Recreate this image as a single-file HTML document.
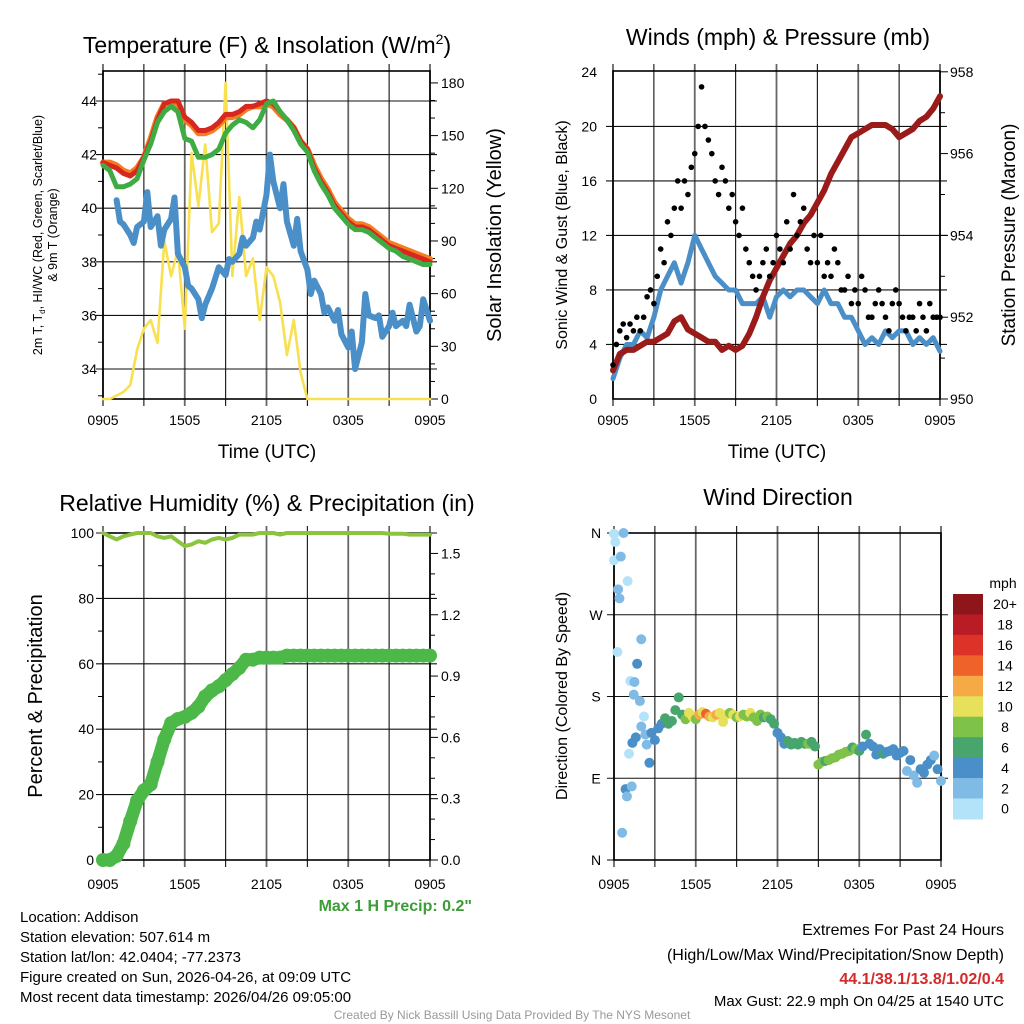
<!DOCTYPE html>
<html><head><meta charset="utf-8"><style>
body{margin:0;background:#fff;}
svg{display:block;font-family:"Liberation Sans",sans-serif;}
</style></head><body>
<svg id="c" width="1024" height="1024" viewBox="0 0 1024 1024" xmlns="http://www.w3.org/2000/svg">
<text x="267" y="53" font-size="23" text-anchor="middle">Temperature (F) &amp; Insolation (W/m<tspan dy="-9" font-size="14">2</tspan><tspan dy="9">)</tspan></text>
<text x="778" y="45" font-size="23" text-anchor="middle">Winds (mph) &amp; Pressure (mb)</text>
<text x="267" y="511" font-size="23" text-anchor="middle">Relative Humidity (%) &amp; Precipitation (in)</text>
<text x="778" y="505" font-size="23" text-anchor="middle">Wind Direction</text>

<text transform="translate(42,235) rotate(-90)" font-size="12.5" text-anchor="middle">2m T, T<tspan font-size="8" dy="3">d</tspan><tspan dy="-3">, HI/WC (Red, Green, Scarlet/Blue)</tspan></text>
<text transform="translate(57,235) rotate(-90)" font-size="12.5" text-anchor="middle">&amp; 9m T (Orange)</text>
<text transform="translate(501,235) rotate(-90)" font-size="20" text-anchor="middle">Solar Insolation (Yellow)</text>
<text transform="translate(567,235) rotate(-90)" font-size="16" text-anchor="middle">Sonic Wind &amp; Gust (Blue, Black)</text>
<text transform="translate(1015,235) rotate(-90)" font-size="19" text-anchor="middle">Station Pressure (Maroon)</text>
<text transform="translate(42,696) rotate(-90)" font-size="20" text-anchor="middle">Percent &amp; Precipitation</text>
<text transform="translate(567,696) rotate(-90)" font-size="16" text-anchor="middle">Direction (Colored By Speed)</text>
<text x="267" y="458" font-size="19" text-anchor="middle">Time (UTC)</text>
<text x="777" y="458" font-size="19" text-anchor="middle">Time (UTC)</text>
<text x="472" y="911" font-size="16" font-weight="bold" fill="#3a9e35" text-anchor="end">Max 1 H Precip: 0.2"</text>

<g font-size="15">
<text x="20" y="922">Location: Addison</text>
<text x="20" y="942">Station elevation: 507.614 m</text>
<text x="20" y="962">Station lat/lon: 42.0404; -77.2373</text>
<text x="20" y="982">Figure created on Sun, 2026-04-26, at 09:09 UTC</text>
<text x="20" y="1002">Most recent data timestamp: 2026/04/26 09:05:00</text>
</g>
<g font-size="16" text-anchor="end">
<text x="1004" y="935">Extremes For Past 24 Hours</text>
<text x="1004" y="960">(High/Low/Max Wind/Precipitation/Snow Depth)</text>
<text x="1004" y="984" font-weight="bold" fill="#d42a2a">44.1/38.1/13.8/1.02/0.4</text>
<text x="1004" y="1006" font-size="15">Max Gust: 22.9 mph On 04/25 at 1540 UTC</text>
</g>
<text x="512" y="1019" font-size="12" fill="#999" text-anchor="middle">Created By Nick Bassill Using Data Provided By The NYS Mesonet</text>
</svg>
<script>
// ---- data ----
const timeLabels = ["0905","1505","2105","0305","0905"];
const halfHours = [0,0.5,1,1.5,2,2.5,3,3.5,4,4.5,5,5.5,6,6.5,7,7.5,8,8.5,9,9.5,10,10.5,11,11.5,12,12.5,13,13.5,14,14.5,15,15.5,16,16.5,17,17.5,18,18.5,19,19.5,20,20.5,21,21.5,22,22.5,23,23.5,24];
const tempTicks = [34,36,38,40,42,44];
const insolTicks = [0,30,60,90,120,150,180];
const temp2m = [41.7,41.6,41.5,41.3,41.2,41.4,41.9,42.5,43.3,43.9,44.0,44.0,43.4,43.2,42.9,42.9,43.0,43.2,43.5,43.5,43.6,43.8,43.8,43.9,44.0,43.9,43.6,43.3,43.0,42.5,42.2,41.5,41.0,40.6,40.1,39.8,39.5,39.3,39.3,39.2,39.0,38.8,38.6,38.5,38.4,38.3,38.2,38.1,38.0];
const temp9m = [41.7,41.7,41.6,41.4,41.3,41.5,41.9,42.6,43.4,43.9,43.9,43.9,43.3,43.1,42.8,42.8,42.9,43.1,43.4,43.4,43.5,43.7,43.8,43.8,43.9,43.8,43.5,43.3,43.0,42.5,42.2,41.6,41.1,40.7,40.2,39.9,39.6,39.4,39.4,39.3,39.1,38.9,38.7,38.6,38.5,38.4,38.3,38.2,38.1];
const windChill = [41.6,41.4,40.8,40.8,40.9,41.1,41.8,42.4,43.2,43.6,43.8,43.6,42.6,42.5,41.9,41.9,42.0,42.2,42.8,43.1,43.3,43.2,43.0,43.3,43.9,44.0,43.6,43.3,42.9,42.4,42.1,41.4,40.9,40.5,40.0,39.7,39.4,39.2,39.2,39.1,38.9,38.7,38.5,38.4,38.2,38.1,38.0,37.9,37.9];
const dewTimes = [1,1.25,1.5,2,2.25,2.5,3,3.25,3.5,4,4.25,4.5,5,5.25,5.5,6,6.25,6.5,7,7.25,7.5,8,8.25,8.5,9,9.25,9.5,10,10.25,10.5,11,11.25,11.5,12,12.25,12.5,13,13.25,13.5,14,14.25,14.5,15,15.25,15.5,16,16.25,16.5,17,17.25,17.5,18,18.25,18.5,19,19.25,19.5,20,20.25,20.5,21,21.25,21.5,22,22.25,22.5,23,23.25,23.5,24];
const dewpoint = [40.3,39.5,39.4,39.0,38.7,39.3,39.5,40.6,39.3,39.7,38.6,39.2,39.6,40.4,38.3,37.8,37.1,37.0,36.6,35.9,36.4,37.0,37.4,37.8,37.5,38.1,38.0,38.3,38.9,38.6,38.9,39.5,39.2,40.5,42.0,41.0,40.0,40.9,39.5,38.6,39.6,38.4,37.7,36.8,37.3,36.8,36.1,36.3,35.8,36.2,35.3,34.8,35.4,34.0,35.0,36.8,36.0,35.9,36.0,35.2,35.6,36.1,35.6,35.8,35.6,36.4,35.4,35.6,36.6,35.8,36.2];
const insolation = [0,0,2,4,8,28,40,45,32,90,70,85,40,140,110,145,95,100,180,70,115,70,80,45,75,70,55,25,45,15,0,0,0,0,0,0,0,0,0,0,0,0,0,0,0,0,0,0,0];

const windTicks = [0,4,8,12,16,20,24];
const pressTicks = [950,952,954,956,958];
const sonicWind = [1.5,3,4,4,5,4.5,6,8,9,10,8.5,10,12,11,10,9,8.5,8,8,7,7,7,7.5,6,7.5,8,7.5,8,8,7.5,7,8,7,7,6,6,5,4,4.5,4,5,4.5,5,5,4,4.5,4,4.5,3.5];
const pressure = [950.7,951.1,951.2,951.2,951.3,951.4,951.4,951.5,951.6,951.9,952.0,951.7,951.6,951.5,951.4,951.4,951.2,951.3,951.2,951.3,951.6,952.0,952.5,952.9,953.2,953.5,953.8,954.0,954.3,954.5,954.8,955.1,955.5,955.8,956.1,956.4,956.5,956.6,956.7,956.7,956.7,956.6,956.4,956.5,956.6,956.8,956.9,957.1,957.4];
const gust = [2.5,4,5,5.5, 4.5,5.5,5,6, 5,6,7.5,8, 7,9,11,10, 13,12,14,16, 14,16,15,17, 18,20,22.9,20, 19,18,16,15, 17,16,14,15, 13,12,14,11, 10,9,8,9, 10,11,9,10, 12,11,10,13, 11,15,12,13, 14,11,10,12, 10,12,9,10, 9,11,10,8, 8,9,7,8, 7,9,8,6, 6,7,8,7, 6,5,7,8, 7,6,5,6, 6,5,7,6, 5,7,6,6, 6];

const pctTicks = [0,20,40,60,80,100];
const precipTicks = ["0.0","0.3","0.6","0.9","1.2","1.5"];
const relHum = [100,99,98,99,99.5,100,100,100,99,98.5,99,97.5,96,96.5,97.5,97,98,98.5,98,98.5,99.5,99.5,99.5,100,100,100,99.5,100,100,100,100,100,100,100,100,100,100,100,100,100,100,100,99.8,99.8,99.8,99.5,99.5,99.5,99.5];
const precip = [0,0,0.02,0.08,0.19,0.29,0.34,0.37,0.48,0.59,0.67,0.69,0.70,0.72,0.75,0.80,0.83,0.85,0.88,0.91,0.94,0.98,0.98,0.99,0.99,0.99,0.99,1.0,1.0,1.0,1.0,1.0,1.0,1.0,1.0,1.0,1.0,1.0,1.0,1.0,1.0,1.0,1.0,1.0,1.0,1.0,1.0,1.0,1.0];

const dirLabels = ["N","E","S","W","N"];
const earlyDirTimes = [0,0.1,0.7,0,0.5,1.0,0.3,0.4,2.0,0.25,1.7,1.2,1.5,1.45,1.9,2.2,2.0,2.3,1.6,1.35,2.4,2.6,1.1,0.85,1.3,0.95,0.6];
const earlyDirValues = [359,350,360,330,334,307,298,288,243,229,216,197,196,182,175,158,147,138,135,129,127,107,117,78,81,70,30];
const earlyDirSpeeds = [0,1,2,1,2,0,2,2,2,0,4,1,2,2,2,0,2,2,4,4,2,4,0,4,2,2,2];
const mainDirValues = [140,
 132,145,150,156, 150,153,165,179, 160,155,162,158, 155,160,163,161, 158,157,160,162, 152,160,162,160, 157,158,160,158,
 162,157,153,160, 157,158,155,150, 140,135,128,131, 127,129,127,130, 128,128,130,125, 105,108,109,110, 112,113,116,117,
 119,120,124,122, 120,125,138,128, 125,116,122,117, 119,120,122,115, 118,120,98,110, 93,85,100,96, 105,110,115,100, 87];
const mainDirSpeeds = [4,
 4,5,4,6, 6,6,7,6, 7,8,10,10, 9,12,10,14, 12,11,12,10, 10,10,9,10, 8,10,9,8,
 10,9,8,8, 7,8,6,6, 5,4,4,6, 6,6,6,7, 6,8,6,6, 8,8,7,8, 8,8,9,8,
 8,8,6,8, 6,4,6,5, 4,5,4,6, 5,4,5,4, 4,4,3,4, 3,2,4,5, 4,4,3,4, 2];

const speedBins = ["0","2","4","6","8","10","12","14","16","18","20+"];
const speedColors = ["#b3e3f8","#7fbbe5","#4a8fc7","#47a56d","#7ec24a","#e6e05a","#f6aa45","#ef632b","#dc3227","#b91c24","#8e1519"];

// ---- helpers ----
const NS = "http://www.w3.org/2000/svg";
const svg = document.getElementById("c");
function mk(tag, attrs, parent){ const e=document.createElementNS(NS,tag); for(const k in attrs) e.setAttribute(k,attrs[k]); (parent||svg).appendChild(e); return e; }
function P(L,R,T,B){ return {L,R,T,B, x:h=>L+h/24*(R-L)}; }
const p1=P(103,430,71,399), p2=P(613,940,71,399), p3=P(103,430,533,860), p4=P(614,941,533,860);
const yT = v=>369-(v-34)*26.8;
const yIns = v=>399-v*1.756;
const yW = v=>399-v*13.63;
const yP = v=>399-(v-950)*40.9;
const yPct = v=>860-v*3.27;
const yPr = v=>860-v/1.6*327;
const yDir = v=>860-v/360*327;

function frame(p, name, hGrid, labOff){
  const g=mk("g",{});
  
  
  for(let i=0;i<=8;i++){ const x=p.L+i*(p.R-p.L)/8;
    mk("line",{x1:x,x2:x,y1:p.T-7,y2:p.B+7,stroke:i%2?"#111":"#666","stroke-width":i%2?1.1:1.8},g); }
  hGrid.forEach(y=>mk("line",{x1:p.L-7,x2:p.R+7,y1:y,y2:y,stroke:"#111","stroke-width":1.1},g));
  const r=mk("rect",{x:p.L,y:p.T,width:p.R-p.L,height:p.B-p.T,fill:"none",stroke:"#000","stroke-width":1.6});
  
  
  timeLabels.forEach((t,i)=>{ const tx=mk("text",{x:p.x(i*6),y:p.B+labOff,"font-size":14,"text-anchor":"middle"}); tx.textContent=t;
    
     });
}
function yLabels(vals, fy, x, anchor, name){
  vals.forEach(v=>{ const t=mk("text",{x:x,y:fy(+v)+5,"font-size":14,"text-anchor":anchor}); t.textContent=v;
    
     });
}
function minorTicks(vals, fy, x, dir){ vals.forEach(v=>mk("line",{x1:x,x2:x+dir*5,y1:fy(v),y2:fy(v),stroke:"#000","stroke-width":1})); }
function line(xs, ys, fx, fy, color, w, name){
  const pts=xs.map((h,i)=>fx(h).toFixed(1)+","+fy(ys[i]).toFixed(1)).join(" ");
  const e=mk("polyline",{points:pts,fill:"none",stroke:color,"stroke-width":w,"stroke-linejoin":"round","stroke-linecap":"round"});
  
  
}
function dirDot(t,d,s){
  const b=Math.min(10,Math.floor(s/2));
  const c=mk("circle",{cx:p4.x(t),cy:yDir(d),r:5,fill:speedColors[b]});
  
  
}

// ---- panel 1 ----
frame(p1,"temp",tempTicks.map(yT),26);
yLabels(tempTicks,yT,97,"end","temp-y-tick-label");
minorTicks([33,35,37,39,41,43,45],yT,p1.L,-1);
yLabels(insolTicks,yIns,441,"start","insolation-y-tick-label");
minorTicks([10,20,40,50,70,80,100,110,130,140,160,170],yIns,p1.R,1);
insolTicks.forEach(v=>mk("line",{x1:p1.R,x2:p1.R+8,y1:yIns(v),y2:yIns(v),stroke:"#000"}));
line(halfHours,insolation,p1.x,yIns,"#f8e04e",2.6,"insolation-line");
line(dewTimes,dewpoint,p1.x,yT,"#4a8fc7",6,"dewpoint-line");
line(halfHours,temp9m,p1.x,yT,"#f47d22",6,"temp-9m-line");
line(halfHours,temp2m,p1.x,yT,"#d7281f",5,"temp-2m-line");
line(halfHours,windChill,p1.x,yT,"#3eab43",5,"wind-chill-line");

// ---- panel 2 ----
frame(p2,"wind",[4,8,12,16,20].map(yW),26);
yLabels(windTicks,yW,597,"end","wind-y-tick-label");
yLabels(pressTicks,yP,950,"start","pressure-y-tick-label");
minorTicks([951,953,955,957],yP,p2.R,1);
pressTicks.forEach(v=>mk("line",{x1:p2.R,x2:p2.R+8,y1:yP(v),y2:yP(v),stroke:"#000"}));
line(halfHours,sonicWind,p2.x,yW,"#4a8fc7",5,"sonic-wind-line");
line(halfHours,pressure,p2.x,yP,"#9b1a1a",6,"pressure-line");
gust.forEach((v,i)=>{ const c=mk("circle",{cx:p2.x(i*0.25),cy:yW(v),r:2.8,fill:"#000"});
  
   });

// ---- panel 3 ----
frame(p3,"humidity",[20,40,60,80,100].map(yPct),29);
yLabels(pctTicks,yPct,94,"end","percent-y-tick-label");
yLabels(precipTicks,yPr,441,"start","precip-y-tick-label");
precipTicks.forEach(v=>mk("line",{x1:p3.R,x2:p3.R+8,y1:yPr(+v),y2:yPr(+v),stroke:"#000"}));
minorTicks([0.1,0.2,0.4,0.5,0.7,0.8,1.0,1.1,1.3,1.4,1.6],yPr,p3.R,1);
minorTicks([10,30,50,70,90],yPct,p3.L,-1);
line(halfHours,relHum,p3.x,yPct,"#8cc43f",4,"relative-humidity-line");
line(halfHours,precip,p3.x,yPr,"#4cb848",13,"precip-line");
precip.forEach((v,i)=>{ const c=mk("circle",{cx:p3.x(halfHours[i]),cy:yPr(v),r:7,fill:"#4cb848"});
  
   });

// ---- panel 4 ----
frame(p4,"direction",[90,180,270].map(yDir),29);
dirLabels.forEach((l,i)=>{ const t=mk("text",{x:596,y:yDir(i*90)+5,"font-size":14,"text-anchor":"middle"}); t.textContent=l;
  
   });
[0,360].forEach(v=>mk("line",{x1:p4.L-7,x2:p4.L,y1:yDir(v),y2:yDir(v),stroke:"#000"}));
earlyDirValues.forEach((d,i)=>dirDot(earlyDirTimes[i],d,earlyDirSpeeds[i]));
mainDirValues.forEach((d,i)=>dirDot(2.75+i*0.25,d,mainDirSpeeds[i]));
// colorbar
const cbT=594, cbH=20.45;
const mph=mk("text",{x:1003,y:588,"font-size":14,"text-anchor":"middle"}); mph.textContent="mph";


speedBins.forEach((lab,i)=>{ const k=10-i; const y=cbT+i*cbH;
  const r=mk("rect",{x:953,y:y,width:30,height:cbH+0.5,fill:speedColors[k]});
  
  
  const t=mk("text",{x:1005,y:y+cbH/2+5,"font-size":14,"text-anchor":"middle"}); t.textContent=speedBins[k];
  
   });
</script>
</body></html>
